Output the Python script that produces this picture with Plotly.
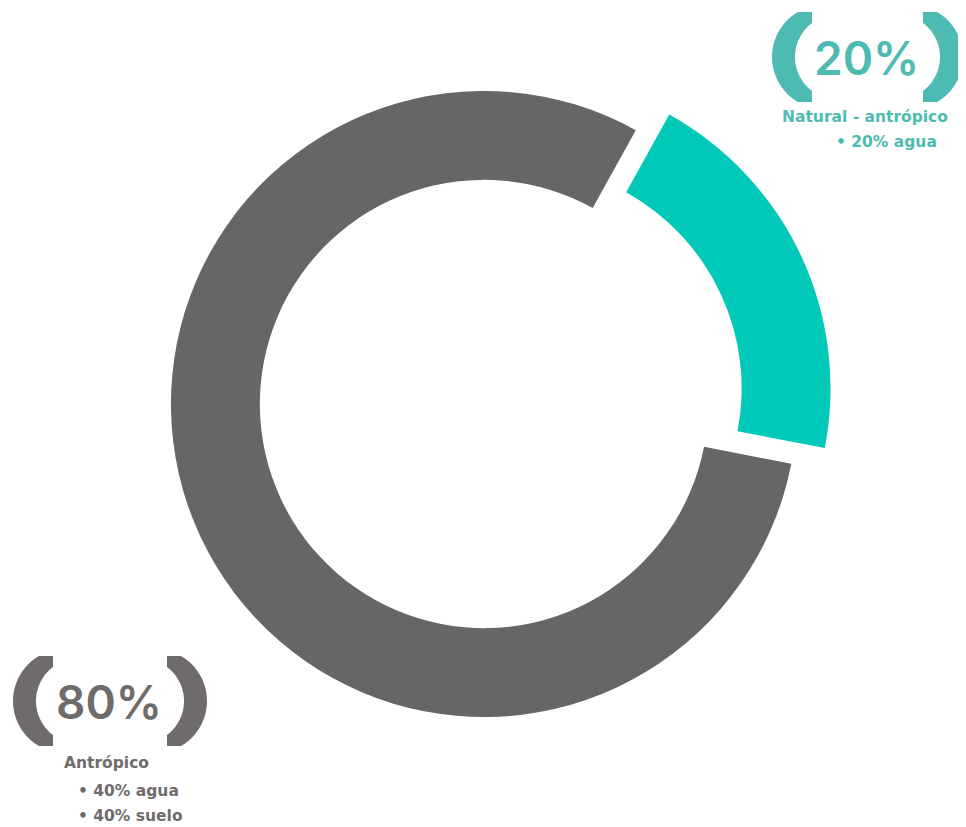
import plotly.graph_objects as go
import numpy as np

# ---- data ----
labels = ["Natural - antrópico", "Antrópico"]
values = [20, 80]
colors = ["#00C9BA", "#666666"]
pulls = [0.118, 0]

pct_texts = ["20%", "80%"]
sub_titles = ["Natural - antrópico", "Antrópico"]
bullets_nat = ["• 20% agua"]
bullets_ant = ["• 40% agua", "• 40% suelo"]

# page has an 8px body margin: figure coords = page coords - OFF
OFF = 8
W, H = 966 - OFF, 827 - OFF
TEAL_TXT = "#4EBBB3"
GRAY_TXT = "#6F6B6B"
FONT_BIG = "Inter"
FONT_SMALL = "DejaVu Sans"

fig = go.Figure()

# donut (center / half box in page pixels)
cx, cy, half = 484 - OFF, 404 - OFF, 350
fig.add_trace(go.Pie(
    labels=labels, values=values, sort=False, direction="clockwise",
    rotation=29, hole=0.716, pull=pulls,
    marker=dict(colors=colors, line=dict(width=0)),
    textinfo="none", hoverinfo="label+percent", showlegend=False,
    domain=dict(x=[(cx - half) / W, (cx + half) / W],
                y=[(H - cy - half) / H, (H - cy + half) / H]),
))


def bracket_path(xe, yc, xm, mirror):
    pts = []
    pts.append((xe, yc - 45))
    a0 = np.arcsin(45 / 52)
    for t in np.linspace(-a0, a0, 40):
        pts.append((xe + 12 - 52 * np.cos(t), yc + 52 * np.sin(t)))
    pts.append((xe, yc + 45))
    pts.append((xe, yc + 34))
    b0 = np.arcsin(34 / 42.5)
    for t in np.linspace(b0, -b0, 40):
        pts.append((xe + 25.5 - 42.5 * np.cos(t), yc + 42.5 * np.sin(t)))
    if mirror:
        pts = [(2 * xm - x, y) for x, y in pts]
    return "M " + " L ".join(f"{x - OFF:.2f},{y - OFF:.2f}" for x, y in pts) + " Z"


groups = [
    dict(xe=812, yc=57, xm=867.5, color=TEAL_TXT, text=pct_texts[0]),
    dict(xe=53, yc=701, xm=110, color=GRAY_TXT, text=pct_texts[1]),
]
shapes = []
annotations = []
for g in groups:
    for mirror in (False, True):
        shapes.append(dict(type="path", xref="x", yref="y",
                           path=bracket_path(g["xe"], g["yc"], g["xm"], mirror),
                           fillcolor=g["color"], line=dict(width=0)))
    annotations.append(dict(x=g["xm"] - OFF - 1, y=g["yc"] - OFF + 1, xref="x", yref="y",
                            text=g["text"], showarrow=False,
                            font=dict(family=FONT_BIG, size=46, color=g["color"], weight=600),
                            xanchor="center", yanchor="middle"))


def lab(x, y, text, color, anchor):
    return dict(x=x - OFF, y=y - OFF, xref="x", yref="y", text=f"<b>{text}</b>",
                showarrow=False, xanchor=anchor, yanchor="middle",
                font=dict(family=FONT_SMALL, size=15.5, color=color))


annotations.append(lab(865, 117, sub_titles[0], TEAL_TXT, "center"))
for i, b in enumerate(bullets_nat):
    annotations.append(lab(834, 142 + 25 * i, b, TEAL_TXT, "left"))
annotations.append(lab(62, 763, sub_titles[1], GRAY_TXT, "left"))
for i, b in enumerate(bullets_ant):
    annotations.append(lab(76, 791 + 25 * i, b, GRAY_TXT, "left"))

fig.update_layout(
    width=W, height=H, margin=dict(l=0, r=0, t=0, b=0),
    paper_bgcolor="white", plot_bgcolor="rgba(0,0,0,0)",
    xaxis=dict(range=[0, W], visible=False, fixedrange=True),
    yaxis=dict(range=[H, 0], visible=False, fixedrange=True),
    shapes=shapes, annotations=annotations, showlegend=False,
)

fig.write_html("out.html")
